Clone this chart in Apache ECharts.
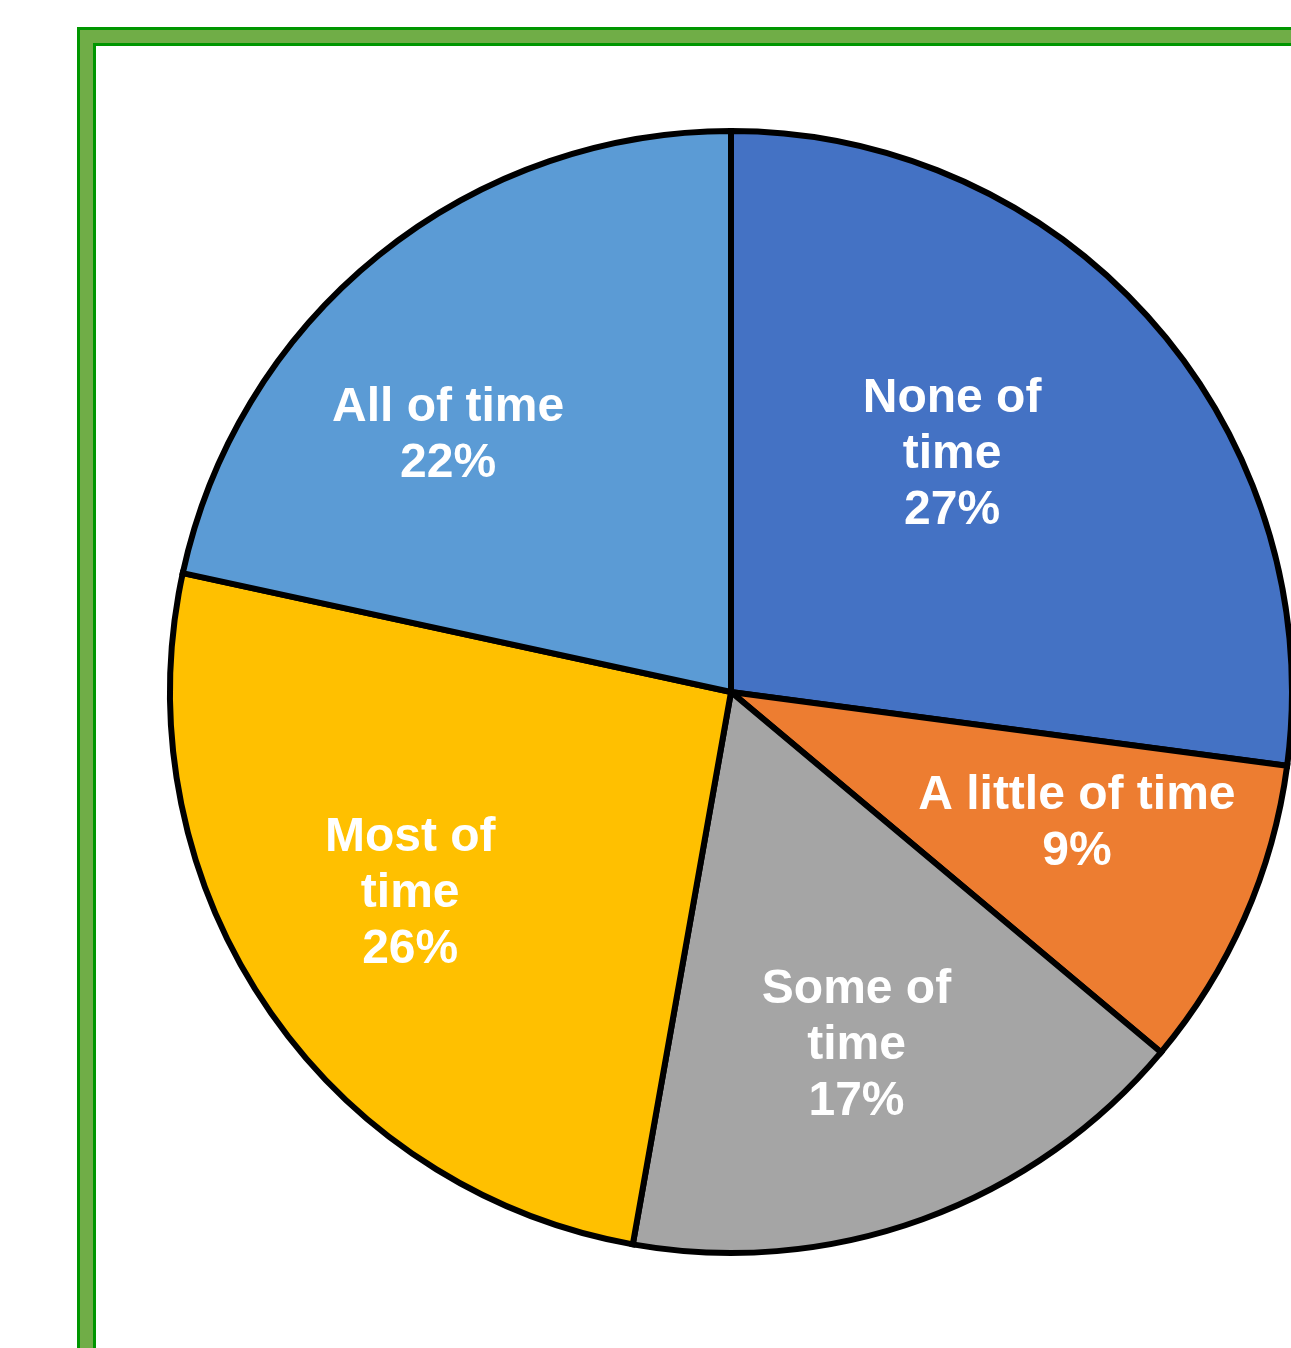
<!DOCTYPE html>
<html>
<head>
<meta charset="utf-8">
<script src="https://cdn.jsdelivr.net/npm/echarts@6/dist/echarts.min.js"></script>
<style>
html,body{margin:0;padding:0;background:#fff;}
#chart{width:1291px;height:1348px;}
</style>
</head>
<body>
<div id="chart"></div>
<script>
// Data (percent shares)
const categories = ['None of time', 'A little of time', 'Some of time', 'Most of time', 'All of time'];
const shares = [27.1, 9.0, 16.7, 25.6, 21.6];
const colors = ['#4472C4', '#ED7D31', '#A5A5A5', '#FFC000', '#5B9BD5'];

// Label styling
const wrapLabel = [true, false, true, true, false];
const labelOffsets = [[-64, 13], [-1, -21], [-4, -2], [-6, -9], [-45, 39]];

const chart = echarts.init(document.getElementById('chart'), null, {renderer: 'canvas'});

const center = [731, 692];
const R = 561;

const pieData = categories.map((c, i) => ({
  name: c,
  value: shares[i],
  itemStyle: {color: colors[i]}
}));

const labelData = categories.map((c, i) => ({
  name: c,
  value: shares[i],
  label: {offset: labelOffsets[i]}
}));

const option = {
  animation: false,
  graphic: [
    {type: 'rect', z: -10, shape: {x: 77, y: 27, width: 1500, height: 1500}, style: {fill: '#009600'}},
    {type: 'rect', z: -9, shape: {x: 80, y: 30, width: 1500, height: 1500}, style: {fill: '#70AD47'}},
    {type: 'rect', z: -8, shape: {x: 93, y: 43, width: 1500, height: 1500}, style: {fill: '#009600'}},
    {type: 'rect', z: -7, shape: {x: 96, y: 46, width: 1500, height: 1500}, style: {fill: '#ffffff'}}
  ],
  series: [
    {
      type: 'pie',
      center: center,
      radius: [0, R],
      startAngle: 90,
      clockwise: true,
      avoidLabelOverlap: false,
      silent: true,
      label: {show: false},
      labelLine: {show: false},
      itemStyle: {borderColor: '#000000', borderWidth: 6, borderJoin: 'miter'},
      data: pieData
    },
    {
      type: 'pie',
      center: center,
      radius: [Math.round(R * 0.34), R],
      startAngle: 90,
      clockwise: true,
      avoidLabelOverlap: false,
      silent: true,
      z: 5,
      itemStyle: {color: 'rgba(0,0,0,0)', borderWidth: 0},
      labelLine: {show: false},
      label: {
        show: true,
        position: 'inside',
        formatter: p => {
          const name = wrapLabel[p.dataIndex] ? p.name.replace(/ time$/, '\ntime') : p.name;
          return name + '\n' + Math.round(p.value) + '%';
        },
        color: '#ffffff',
        fontFamily: '"Liberation Sans", Arial, sans-serif',
        fontWeight: 'bold',
        fontSize: 48,
        lineHeight: 56,
        align: 'center'
      },
      data: labelData
    }
  ]
};

chart.setOption(option);
</script>
</body>
</html>
